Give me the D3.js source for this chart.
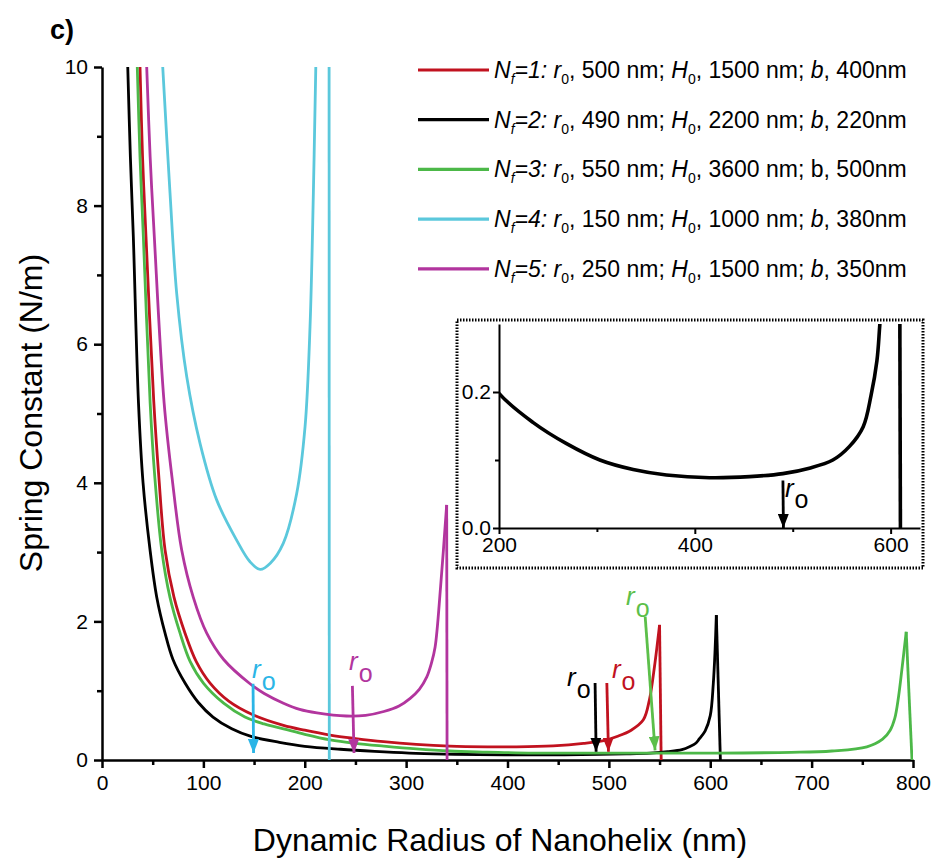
<!DOCTYPE html>
<html>
<head>
<meta charset="utf-8">
<script src="https://cdn.jsdelivr.net/npm/d3@7"></script>
<style>
  body { margin: 0; background: #fff; }
  svg { font-family: "Liberation Sans", Arial, sans-serif; }
  text { white-space: pre; }
</style>
</head>
<body>
<svg id="chart" width="938" height="861"></svg>
<script>
// legend parameters (N_f, r0, H0, b)
const nf = [1, 2, 3, 4, 5];
const r0 = [500, 490, 550, 150, 250];
const h0 = [1500, 2200, 3600, 1000, 1500];
const bVal = [400, 220, 500, 380, 350];
const colors = ['#c1121f', '#000000', '#4cb848', '#5bc8dc', '#b2359e'];

// curves: [radius nm, spring constant N/m]
// the last point of each curve is the sharp drop back to zero
const redPts = [[37.5,10],[40,8.7],[43.4,7.55],[51,5.19],[56,4.1],[62.2,3.03],[71,2.35],[81.9,1.83],[93,1.42],
  [106.6,1.11],[125,0.85],[149.3,0.65],[179,0.5],[200,0.43],[225,0.36],[250,0.31],[277.6,0.264],[310,0.225],
  [343,0.2],[380,0.19],[409,0.19],[445,0.205],[475,0.24],[495,0.28],[508,0.34],[522,0.43],[534,0.58],
  [540,0.87],[545,1.35],[550,1.95],[551.6,0]];
const blackPts = [[25.4,10],[28,8.7],[30.9,7.55],[36,5.15],[40.5,4],[47.4,3.03],[54,2.35],[62.2,1.83],[70,1.45],
  [81.9,1.11],[95,0.83],[109.5,0.62],[128,0.45],[147,0.34],[175,0.255],[200,0.198],[235,0.155],[269,0.124],
  [303,0.1],[337,0.086],[371,0.078],[415,0.074],[456,0.0756],[490,0.08],[517,0.088],[541,0.1],[558,0.12],
  [572,0.149],[580,0.195],[586,0.246],[589,0.3],[595,0.42],[600,0.64],[603,1.1],[604.8,1.6],[606,2.09],[610,0]];
const greenPts = [[34.8,10],[37.5,8.7],[40.8,7.55],[47.5,5.15],[52,4.1],[58.9,3.03],[67,2.35],[77,1.83],[87,1.42],
  [100,1.11],[120,0.82],[141,0.62],[160,0.52],[179,0.45],[200,0.37],[225,0.29],[250,0.24],[278,0.2],[310,0.16],
  [343,0.13],[380,0.115],[426,0.1],[508,0.1],[600,0.1],[680,0.11],[720,0.13],[754.5,0.19],[770,0.3],
  [777.5,0.43],[782,0.6],[785.7,0.91],[789,1.3],[793.3,1.85],[799,0]];
// the cyan curve leaves the top of the frame and comes back down at ~224 nm
const cyanPts = [[59.9,10],[67.1,8.18],[73.7,6.73],[83.6,5.53],[96.7,4.57],[113.2,3.75],[132.9,3.17],[146,2.86],
  [156,2.75],[166,2.84],[178.9,3.13],[192.1,3.85],[200.3,4.81],[205.2,6.25],[208.5,8.18],[210.9,10],
  [212.5,11],[224,11],[224.2,0]];
const magentaPts = [[44.1,10],[47.5,8.7],[51.6,7.55],[61.3,5.15],[69.7,4],[78.6,3.03],[90,2.35],[103.3,1.83],
  [120,1.45],[146,1.1],[160,0.96],[179,0.82],[195,0.73],[212,0.68],[241,0.635],[260,0.645],[278,0.7],[293,0.78],
  [304,0.89],[313,1.02],[320.4,1.2],[325,1.4],[328.6,1.63],[334,2.5],[340,3.68],[340.4,0]];
const series = [redPts, blackPts, greenPts, cyanPts, magentaPts];

// r0 arrows (cyan, magenta, black, red, green)
const arrowColors = ['#2bb5e6', '#b2359e', '#000000', '#c1121f', '#5cbf4a'];
const arrowX0 = [149, 247, 486.4, 498, 535.8];
const arrowY0 = [1.1, 1.07, 1.11, 1.11, 2.07];
const arrowX1 = [149.5, 248.6, 487.4, 499.6, 545.6];
const arrowY1 = [0.1, 0.1, 0.12, 0.12, 0.14];
const labelX = [148, 243.7, 458.8, 503, 517];
const labelY = [1.18, 1.3, 1.07, 1.18, 2.24];

const xTicks = [0, 100, 200, 300, 400, 500, 600, 700, 800];
const xMinor = [50, 150, 250, 350, 450, 550, 650, 750];
const yTicks = [0, 2, 4, 6, 8, 10];
const yMinor = [1, 3, 5, 7, 9];
const insetXTicks = [200, 400, 600];
const insetXMinor = [300, 500];
const insetYTicks = [0, 0.2];
const insetYMinor = [0.1];

const svg = d3.select('#chart');
const x = d3.scaleLinear().domain([0, 800]).range([102, 913]);
const y = d3.scaleLinear().domain([0, 10]).range([760, 67]);

const defs = svg.append('defs');
defs.append('clipPath').attr('id', 'plotClip').append('rect')
  .attr('x', 102).attr('y', 67).attr('width', 811).attr('height', 693);
arrowColors.concat(['#000000']).forEach((c, i) => {
  defs.append('marker').attr('id', 'arr' + i)
    .attr('markerUnits', 'userSpaceOnUse')
    .attr('markerWidth', 14).attr('markerHeight', 11)
    .attr('refX', 14).attr('refY', 5.5).attr('orient', 'auto')
    .append('path').attr('d', 'M0,0L14,5.5L0,11Z').attr('fill', c);
});

function styleAxis(g, w, fs) {
  g.select('.domain').attr('stroke-width', w);
  g.selectAll('.tick line').attr('stroke-width', w);
  g.selectAll('text').style('font-size', fs + 'px').attr('fill', '#000')
    .style('font-family', '"Liberation Sans", Arial, sans-serif');
}

// main axes
const gx = svg.append('g').attr('transform', 'translate(0,760)')
  .call(d3.axisBottom(x).tickValues(xTicks).tickSize(8).tickSizeOuter(0).tickPadding(7));
styleAxis(gx, 2.5, 21);
const gxm = svg.append('g').attr('transform', 'translate(0,760)')
  .call(d3.axisBottom(x).tickValues(xMinor).tickSize(5).tickFormat(''));
gxm.select('.domain').remove();
styleAxis(gxm, 2.5, 21);

const gy = svg.append('g').attr('transform', 'translate(102,0)')
  .call(d3.axisLeft(y).tickValues(yTicks).tickSize(8).tickSizeOuter(0).tickPadding(6));
styleAxis(gy, 2.5, 21);
const gym = svg.append('g').attr('transform', 'translate(102,0)')
  .call(d3.axisLeft(y).tickValues(yMinor).tickSize(5).tickFormat(''));
gym.select('.domain').remove();
styleAxis(gym, 2.5, 21);

// curves: smooth part through the peak, straight drop for the last segment
const smooth = d3.curveCatmullRom.alpha(0.5);
function drawCurve(g, pts, sx, sy, color, width) {
  const smoothLine = d3.line().x(d => sx(d[0])).y(d => sy(d[1])).curve(smooth);
  const straight = d3.line().x(d => sx(d[0])).y(d => sy(d[1]));
  g.append('path').datum(pts.slice(0, -1)).attr('d', smoothLine)
    .attr('fill', 'none').attr('stroke', color).attr('stroke-width', width);
  g.append('path').datum(pts.slice(-2)).attr('d', straight)
    .attr('fill', 'none').attr('stroke', color).attr('stroke-width', width);
}
const curves = svg.append('g').attr('clip-path', 'url(#plotClip)');
series.forEach((pts, i) => drawCurve(curves, pts, x, y, colors[i], 2.8));

// r0 arrows and labels
arrowColors.forEach((c, i) => {
  svg.append('line')
    .attr('x1', x(arrowX0[i])).attr('y1', y(arrowY0[i]))
    .attr('x2', x(arrowX1[i])).attr('y2', y(arrowY1[i]))
    .attr('stroke', c).attr('stroke-width', 2.8)
    .attr('marker-end', 'url(#arr' + i + ')');
  const t = svg.append('text').attr('x', x(labelX[i])).attr('y', y(labelY[i]))
    .attr('fill', c).style('font-size', '26px');
  t.append('tspan').style('font-style', 'italic').text('r');
  t.append('tspan').attr('dy', 12).attr('dx', 1).style('font-size', '25px').text('o');
});

// legend
nf.forEach((n, i) => {
  const ly = 70 + 49.7 * i;
  svg.append('line').attr('x1', 418).attr('x2', 489).attr('y1', ly).attr('y2', ly)
    .attr('stroke', colors[i]).attr('stroke-width', 3.2);
  const t = svg.append('text').attr('x', 494).attr('y', ly + 8).style('font-size', '23px');
  t.append('tspan').style('font-style', 'italic').text('N');
  t.append('tspan').style('font-style', 'italic').style('font-size', '14px').attr('dy', 6).text('f');
  t.append('tspan').style('font-style', 'italic').attr('dy', -6).text('=' + n + ':');
  t.append('tspan').text(' ');
  t.append('tspan').style('font-style', 'italic').text('r');
  t.append('tspan').style('font-size', '14px').attr('dy', 6).text('0');
  t.append('tspan').attr('dy', -6).text(', ' + r0[i] + ' nm; ');
  t.append('tspan').style('font-style', 'italic').text('H');
  t.append('tspan').style('font-size', '14px').attr('dy', 6).text('0');
  t.append('tspan').attr('dy', -6).text(', ' + h0[i] + ' nm; ');
  t.append('tspan').style('font-style', n === 3 ? 'normal' : 'italic').text('b');
  t.append('tspan').text(', ' + bVal[i] + 'nm');
});

// inset
const xi = d3.scaleLinear().domain([200, 630]).range([499, 920]);
const yi = d3.scaleLinear().domain([0, 0.3]).range([528, 324]);
svg.append('rect').attr('x', 457).attr('y', 320).attr('width', 466).attr('height', 248)
  .attr('fill', '#fff').attr('stroke', '#000').attr('stroke-width', 3)
  .attr('stroke-dasharray', '1.5,1.5');
defs.append('clipPath').attr('id', 'insetClip').append('rect')
  .attr('x', 499).attr('y', 324).attr('width', 421).attr('height', 204);

const ix = svg.append('g').attr('transform', 'translate(0,528)')
  .call(d3.axisBottom(xi).tickValues(insetXTicks).tickSize(6).tickSizeOuter(0).tickPadding(3));
styleAxis(ix, 2, 21);
const ixm = svg.append('g').attr('transform', 'translate(0,528)')
  .call(d3.axisBottom(xi).tickValues(insetXMinor).tickSize(4).tickFormat(''));
ixm.select('.domain').remove();
styleAxis(ixm, 2, 21);
const iy = svg.append('g').attr('transform', 'translate(499,0)')
  .call(d3.axisLeft(yi).tickValues(insetYTicks).tickSize(6).tickSizeOuter(0).tickPadding(2)
    .tickFormat(d3.format('.1f')));
styleAxis(iy, 2, 21);
const iym = svg.append('g').attr('transform', 'translate(499,0)')
  .call(d3.axisLeft(yi).tickValues(insetYMinor).tickSize(4).tickFormat(''));
iym.select('.domain').remove();
styleAxis(iym, 2, 21);

const insetG = svg.append('g').attr('clip-path', 'url(#insetClip)');
drawCurve(insetG, blackPts, xi, yi, '#000', 3.6);

svg.append('line').attr('x1', xi(490)).attr('y1', yi(0.07)).attr('x2', xi(490.5)).attr('y2', yi(0))
  .attr('stroke', '#000').attr('stroke-width', 2.8).attr('marker-end', 'url(#arr5)');
const it = svg.append('text').attr('x', xi(492)).attr('y', yi(0.045)).style('font-size', '26px');
it.append('tspan').style('font-style', 'italic').text('r');
it.append('tspan').attr('dy', 11).attr('dx', 1).style('font-size', '25px').text('o');

// titles
svg.append('text').attr('x', 500).attr('y', 851).attr('text-anchor', 'middle')
  .style('font-size', '32px').text('Dynamic Radius of Nanohelix (nm)');
svg.append('text').attr('transform', 'translate(42,413) rotate(-90)').attr('text-anchor', 'middle')
  .style('font-size', '32px').text('Spring Constant (N/m)');
svg.append('text').attr('x', 50).attr('y', 39).style('font-size', '27px').style('font-weight', 'bold').text('c)');
</script>
</body>
</html>
